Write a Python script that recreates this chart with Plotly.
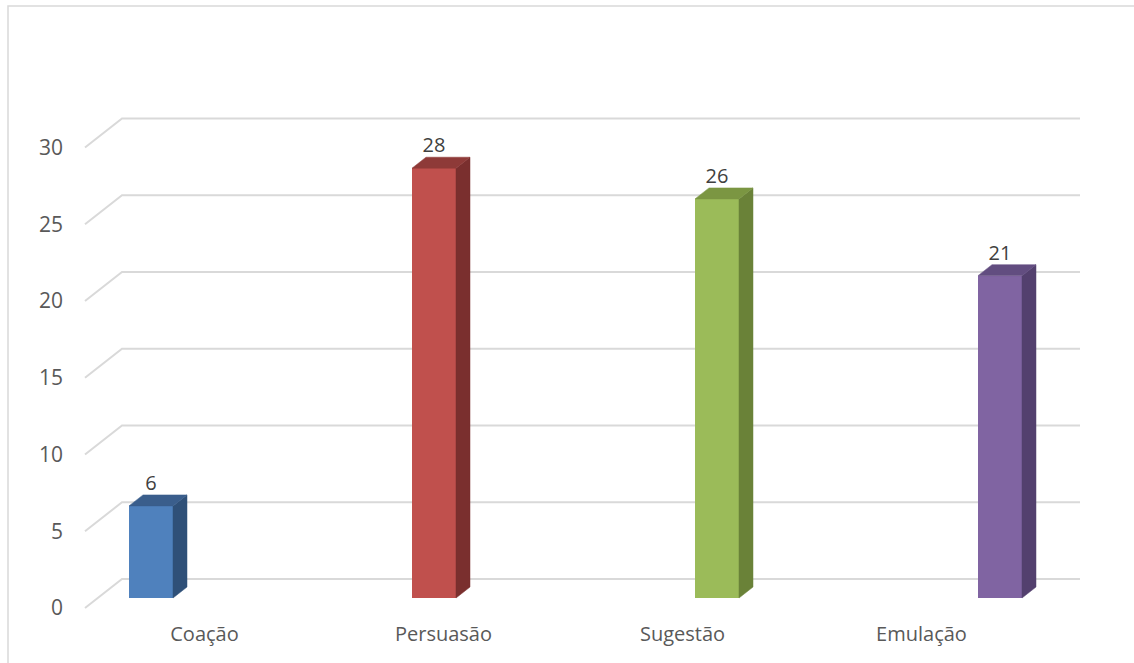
import plotly.graph_objects as go

# Chart data
categories = ["Coação", "Persuasão", "Sugestão", "Emulação"]
values = [6, 28, 26, 21]
y_ticks = [0, 5, 10, 15, 20, 25, 30]

front_colors = ["#4F81BD", "#C0504D", "#9BBB59", "#8064A2"]
side_colors = ["#2F5078", "#7A2F2E", "#6A8238", "#53406E"]
top_colors = ["#3A5E8C", "#8E3A38", "#7B9642", "#624D80"]

# Page geometry (pixels) used to build the oblique 3-D look
W, H = 1134, 663
M_L, M_B = 70, 43
PX_PER_SLOT = 239.0     # width of one category slot on the front floor edge
FLOOR_LEFT_PX = 85.0    # left end of the front floor edge
PX_PER_UNIT = 15.35     # vertical pixels per value unit
BAR_BASE_PX = 598.0     # pixel row of the bars' front bottom edge

def xu(px_dx):
    return px_dx / PX_PER_SLOT

def yu(px_dy):
    return px_dy / PX_PER_UNIT

x_range = [xu(M_L - FLOOR_LEFT_PX), xu(W - FLOOR_LEFT_PX)]
y_range = [yu(BAR_BASE_PX - (H - M_B)), yu(BAR_BASE_PX)]

front_off = yu(BAR_BASE_PX - 608)   # front (wall edge) plane offset
back_off = yu(BAR_BASE_PX - 579)    # back wall offset
wall_dx = xu(122 - FLOOR_LEFT_PX)
back_right = xu(1080 - FLOOR_LEFT_PX)

bar_w = xu(44)
depth_dx = xu(14)
depth_dy = yu(11)
bar_first = xu(151 - FLOOR_LEFT_PX)
bar_step = xu(283)
bar_x = [bar_first + i * bar_step for i in range(len(categories))]

fig = go.Figure()

# Gridlines (left wall diagonal + back wall horizontal), kept beneath the columns
grid_color = "#D9D9D9"
shapes = []
for v in y_ticks:
    shapes.append(dict(
        type="path", xref="x", yref="y", layer="below",
        path=f"M {0} {v + front_off} L {wall_dx} {v + back_off} L {back_right} {v + back_off}",
        line=dict(color=grid_color, width=2)))

# Chart-area border
shapes.append(dict(type="rect", xref="paper", yref="paper",
                   x0=(8 - M_L) / (W - M_L), x1=1.05,
                   y0=-0.2, y1=1 - 6 / (H - M_B),
                   line=dict(color="#D9D9D9", width=1.5), layer="below"))

# Side and top faces of each column
for i, v in enumerate(values):
    xl = bar_x[i] - bar_w / 2
    xr = bar_x[i] + bar_w / 2
    fig.add_trace(go.Scatter(
        x=[xr, xr, xr + depth_dx, xr + depth_dx, xr],
        y=[0, v, v + depth_dy, depth_dy, 0],
        fill="toself", fillcolor=side_colors[i], mode="lines",
        line=dict(color=side_colors[i], width=0.5),
        hoverinfo="skip", showlegend=False))
    fig.add_trace(go.Scatter(
        x=[xl, xr, xr + depth_dx, xl + depth_dx, xl],
        y=[v, v, v + depth_dy, v + depth_dy, v],
        fill="toself", fillcolor=top_colors[i], mode="lines",
        line=dict(color=top_colors[i], width=0.5),
        hoverinfo="skip", showlegend=False))

# Front faces
fig.add_trace(go.Bar(
    x=bar_x, y=values, width=bar_w,
    marker=dict(color=front_colors, line=dict(width=0)),
    showlegend=False, hoverinfo="skip"))

# Value labels
fig.add_trace(go.Scatter(
    x=bar_x, y=[v + depth_dy for v in values],
    mode="text", text=[str(v) for v in values],
    textposition="top center",
    textfont=dict(family="Open Sans", size=20, color="#404040"),
    hoverinfo="skip", showlegend=False))

fig.update_layout(
    width=W, height=H,
    margin=dict(l=M_L, r=0, t=0, b=M_B),
    paper_bgcolor="white", plot_bgcolor="white",
    font=dict(family="Open Sans", size=20, color="#595959"),
    xaxis=dict(range=x_range, showgrid=False, zeroline=False, showline=False,
               tickmode="array", tickvals=[i + 0.5 for i in range(len(categories))],
               ticktext=categories, ticks="", fixedrange=True),
    yaxis=dict(range=y_range, showgrid=False, zeroline=False, showline=False,
               tickmode="array", tickvals=[v + front_off for v in y_ticks],
               ticktext=[str(v) for v in y_ticks], ticks="", fixedrange=True,
               ticklabelstandoff=6, tickfont=dict(size=21)),
    bargap=0,
    shapes=shapes,
)

fig.write_html("out.html")
